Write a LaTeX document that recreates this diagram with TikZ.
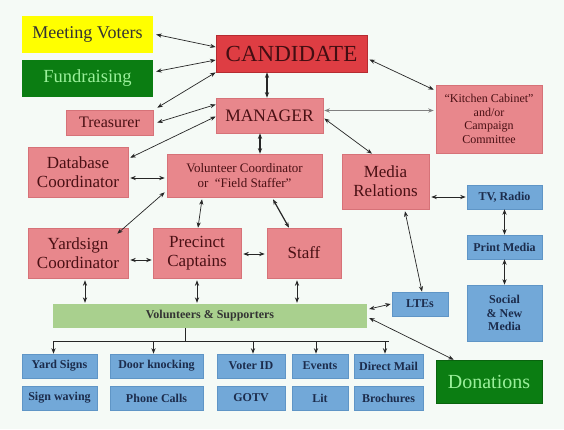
\documentclass[tikz,border=0pt]{standalone}
\usepackage{fontspec}
\setmainfont{Liberation Serif}
\usetikzlibrary{arrows.meta,calc}
\definecolor{bgc}{HTML}{F5FAF6}
\definecolor{pinkf}{HTML}{E8878C}
\definecolor{pinkd}{HTML}{D67278}
\definecolor{pinkt}{HTML}{4A1014}
\definecolor{candf}{HTML}{DE3D43}
\definecolor{candd}{HTML}{B52B31}
\definecolor{bluef}{HTML}{72A8D8}
\definecolor{blued}{HTML}{5F95C6}
\definecolor{bluet}{HTML}{1C2C4C}
\definecolor{lgreen}{HTML}{A9D08E}
\definecolor{dgreen}{HTML}{0B7D12}
\definecolor{gtext}{HTML}{9BF09B}
\definecolor{yel}{HTML}{FFFF00}
\tikzset{
  box/.style={rectangle, inner sep=0pt, align=center, font=\fontsize{17}{19}\selectfont},
  pinkbox/.style={box, fill=pinkf, draw=pinkd, line width=0.6pt, text=pinkt},
  bluebox/.style={box, fill=bluef, draw=blued, line width=0.6pt, text=bluet, font=\bfseries\fontsize{12}{13.5}\selectfont},
  link/.style={line width=0.7pt, draw=black!85, {Stealth[length=5.5pt,width=4.2pt]}-{Stealth[length=5.5pt,width=4.2pt]}},
  thick link/.style={link, line width=1.2pt},
  grey link/.style={link, draw=black!50, line width=1.6pt},
  down/.style={line width=0.9pt, draw=black!85, -{Stealth[length=5.5pt,width=4.2pt]}},
  tree/.style={line width=0.9pt, draw=black!85}
}
\begin{document}
\begin{tikzpicture}[x=1pt,y=-1pt]
\fill[bgc] (0,0) rectangle (564,429);
\useasboundingbox (0,0) rectangle (564,429);

\node[box, fill=yel, text=black!80, minimum width=131pt, minimum height=37pt, font=\fontsize{18}{20}\selectfont] (mv) at (87.5,34.5) {Meeting Voters};
\node[box, fill=dgreen, text=gtext, minimum width=131pt, minimum height=37pt, font=\fontsize{18.5}{20}\selectfont] (fr) at (87.5,78.5) {Fundraising};
\node[pinkbox, minimum width=87pt, minimum height=25pt, font=\fontsize{16}{18}\selectfont] (tr) at (109.5,122.5) {Treasurer};
\node[box, fill=candf, draw=candd, line width=0.8pt, text=pinkt!90!black, minimum width=151pt, minimum height=37pt, font=\fontsize{23}{25}\selectfont] (cand) at (291.5,53.5) {CANDIDATE};
\node[pinkbox, minimum width=107pt, minimum height=35pt, font=\fontsize{17.5}{19}\selectfont] (mgr) at (269.5,115.5) {MANAGER};
\node[pinkbox, minimum width=106pt, minimum height=68pt, font=\fontsize{12}{13.5}\selectfont] (kc) at (489,119) {``Kitchen Cabinet''\\and/or\\Campaign\\Committee};
\node[pinkbox, minimum width=100pt, minimum height=50pt] (db) at (78,172) {Database\\Coordinator};
\node[pinkbox, minimum width=155pt, minimum height=43pt, font=\fontsize{13}{15.5}\selectfont] (vc) at (244.5,175.5) {Volunteer Coordinator\\or\ \ ``Field Staffer''};
\node[pinkbox, minimum width=87pt, minimum height=55pt] (mr) at (385.5,181.5) {Media\\Relations};
\node[bluebox, minimum width=75pt, minimum height=24pt] (tv) at (504.5,197) {TV, Radio};
\node[bluebox, minimum width=75pt, minimum height=24pt] (pm) at (504.5,247) {Print Media};
\node[bluebox, minimum width=75pt, minimum height=56pt] (sm) at (504.5,313) {Social\\\&~New\\Media};
\node[pinkbox, minimum width=100pt, minimum height=50pt] (ys) at (78,253) {Yardsign\\Coordinator};
\node[pinkbox, minimum width=88pt, minimum height=50pt] (pc) at (197,253) {Precinct\\Captains};
\node[pinkbox, minimum width=74pt, minimum height=50pt] (st) at (304,253) {Staff};
\node[bluebox, minimum width=56pt, minimum height=24pt] (lte) at (420,304) {LTEs};
\node[box, fill=lgreen, text=black!80, minimum width=314pt, minimum height=24pt, font=\bfseries\fontsize{12}{13.5}\selectfont] (vs) at (210,316) {Volunteers \& Supporters};
\node[box, fill=dgreen, draw=dgreen!80!black, line width=0.6pt, text=gtext, minimum width=106pt, minimum height=43pt, font=\fontsize{20}{22}\selectfont] (don) at (489,381.5) {Donations};

\node[bluebox, minimum width=75pt, minimum height=24pt] (yard) at (59.5,366) {Yard Signs};
\node[bluebox, minimum width=75pt, minimum height=24pt] (sw) at (59.5,398) {Sign waving};
\node[bluebox, minimum width=93pt, minimum height=24pt] (door) at (156.5,366) {Door knocking};
\node[bluebox, minimum width=93pt, minimum height=24pt] (phone) at (156.5,398) {Phone Calls};
\node[bluebox, minimum width=68pt, minimum height=24pt] (vid) at (251,366) {Voter ID};
\node[bluebox, minimum width=68pt, minimum height=24pt] (gotv) at (251,398) {GOTV};
\node[bluebox, minimum width=56pt, minimum height=24pt] (ev) at (320,366) {Events};
\node[bluebox, minimum width=56pt, minimum height=24pt] (lit) at (320,398) {Lit};
\node[bluebox, minimum width=69pt, minimum height=24pt] (dm) at (388.5,366) {Direct Mail};
\node[bluebox, minimum width=69pt, minimum height=24pt] (bro) at (388.5,398) {Brochures};

% connectors
\draw[link] ([xshift=3pt]mv.east) -- ([yshift=6.5pt]cand.west);
\draw[link] ([xshift=3pt,yshift=7pt]fr.east) -- ([yshift=-6.5pt]cand.west);
\draw[link] ([xshift=4pt,yshift=2pt]tr.north east) -- (cand.south west);
\draw[link] ([xshift=4pt]tr.east) -- ([yshift=11pt]mgr.west);
\draw[link] ([xshift=2pt,yshift=-11pt]db.north east) -- ([yshift=-1pt]mgr.west);
\draw[thick link] ([xshift=-2.5pt]mgr.north) -- ([xshift=-2.5pt]mgr.north |- cand.south);
\draw[thick link] ([xshift=-9.5pt]mgr.south) -- ([xshift=-9.5pt]mgr.south |- vc.north);
\draw[link] ([xshift=2pt,yshift=-6pt]cand.east) -- ([xshift=-2pt,yshift=-5pt]kc.north west);
\draw[grey link] ([xshift=1pt,yshift=5pt]mgr.east) -- ([xshift=-2pt,yshift=5pt]mgr.east -| kc.west);
\draw[link] ([xshift=1pt,yshift=-3pt]mgr.east) -- ([xshift=-13.5pt]mr.north);
\draw[link] ([xshift=2pt,yshift=-6pt]db.east) -- ([xshift=-2pt,yshift=-6pt]db.east -| vc.west);
\draw[link] ([xshift=-2pt,yshift=5pt]vc.south west) -- ([xshift=-11pt,yshift=-6pt]ys.north east);
\draw[link] ([xshift=-42.5pt,yshift=-2pt]vc.south) -- ([xshift=1pt]pc.north);
\draw[thick link] ([xshift=28.5pt,yshift=-2pt]vc.south) -- ([xshift=-15pt]st.north);
\draw[link] ([xshift=2pt,yshift=-7pt]ys.east) -- ([xshift=-1pt,yshift=-7pt]ys.east -| pc.west);
\draw[link] ([xshift=2pt,yshift=-1pt]pc.east) -- ([xshift=-2pt,yshift=-1pt]pc.east -| st.west);
\draw[link] ([xshift=2pt]tv.west -| mr.east) -- ([xshift=-1pt]tv.west);
\draw[link] (tv.south) -- (pm.north);
\draw[link] (pm.south) -- (sm.north);
\draw[link] ([xshift=19.5pt,yshift=-2pt]mr.south) -- ([xshift=2pt]lte.north);
\draw[link] ([xshift=2pt,yshift=7pt]vs.east) -- ([xshift=-1pt]lte.west);
\draw[link] ([xshift=2pt,yshift=-2pt]vs.east) -- ([xshift=18pt]don.north west);
\draw[link] ([xshift=7pt,yshift=-2pt]ys.south) -- ([xshift=7pt,yshift=1pt]ys.south |- vs.north);
\draw[link] ([yshift=-2pt]pc.south) -- ([yshift=1pt]pc.south |- vs.north);
\draw[link] ([xshift=-7pt,yshift=-2pt]st.south) -- ([xshift=-7pt,yshift=1pt]st.south |- vs.north);

% tree from volunteers
\coordinate (vsb) at ([xshift=-25pt]vs.south);
\coordinate (bus) at ([yshift=-13pt]vsb);
\draw[tree] (vsb) -- (bus);
\draw[tree] ([xshift=-6pt]bus -| yard.north) -- (bus -| dm.north);
\draw[down] ([xshift=-6pt]bus -| yard.north) -- ([xshift=-6pt]yard.north);
\draw[down] ([xshift=-3pt]bus -| door.north) -- ([xshift=-3pt]door.north);
\draw[down] ([xshift=2pt]bus -| vid.north) -- ([xshift=2pt]vid.north);
\draw[down] ([xshift=-4pt]bus -| ev.north) -- ([xshift=-4pt]ev.north);
\draw[down] ([xshift=-3.5pt]bus -| dm.north) -- ([xshift=-3.5pt]dm.north);
\end{tikzpicture}
\end{document}
